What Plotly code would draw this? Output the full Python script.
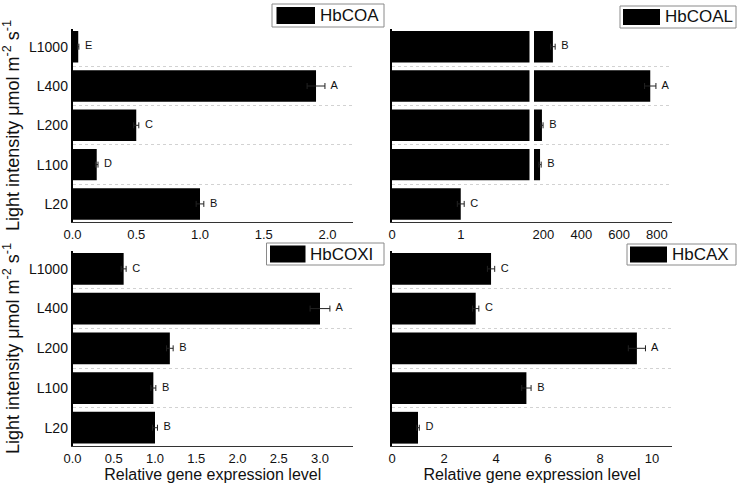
import plotly.graph_objects as go

W, H = 745, 492

# ---------------- data ----------------
categories = ["L20", "L100", "L200", "L400", "L1000"]

coa_vals = [1.0, 0.19, 0.50, 1.91, 0.045]
coa_errs = [0.03, 0.01, 0.02, 0.07, 0.005]
coa_letters = ["B", "D", "C", "A", "E"]

coal_vals = [1.0, 182, 192, 765, 250]
coal_errs = [0.05, 6, 6, 30, 12]
coal_letters = ["C", "B", "B", "A", "B"]
coal_break = [2, 150]  # axis break: left segment ends at 2, right starts at 150

coxi_vals = [1.0, 0.98, 1.18, 3.0, 0.62]
coxi_errs = [0.03, 0.03, 0.04, 0.12, 0.03]
coxi_letters = ["B", "B", "B", "A", "C"]

cax_vals = [1.0, 5.17, 9.42, 3.22, 3.81]
cax_errs = [0.05, 0.18, 0.33, 0.12, 0.14]
cax_letters = ["D", "B", "A", "C", "C"]

genes = ["HbCOA", "HbCOAL", "HbCOXI", "HbCAX"]

FONT = "Arial, Liberation Sans, sans-serif"


def px(x):
    return x / W


def py(y):
    return 1 - y / H


fig = go.Figure()


def add_bars(vals, errs, xa, ya):
    fig.add_trace(go.Bar(
        x=vals, y=categories, orientation="h",
        marker=dict(color="#000000", line=dict(width=0)),
        error_x=dict(type="data", array=errs, symmetric=True,
                     color="#222222", thickness=1, width=3),
        xaxis=xa, yaxis=ya, showlegend=False,
    ))


def add_letters(vals, errs, letters, xa, ya, keep=lambda v: True):
    xs, ys, ts = [], [], []
    for c, v, e, t in zip(categories, vals, errs, letters):
        if keep(v + e):
            xs.append(v + e)
            ys.append(c)
            ts.append("  " + t)
    fig.add_trace(go.Scatter(
        x=xs, y=ys, mode="text", text=ts,
        textposition="middle right",
        textfont=dict(family=FONT, size=11, color="#111111"),
        cliponaxis=False,
        xaxis=xa, yaxis=ya, showlegend=False, hoverinfo="skip",
    ))


add_bars(coa_vals, coa_errs, "x", "y")
add_letters(coa_vals, coa_errs, coa_letters, "x", "y")

add_bars(coal_vals, coal_errs, "x2", "y2")
add_letters(coal_vals, coal_errs, coal_letters, "x2", "y2",
            keep=lambda v: v <= coal_break[0])
add_bars(coal_vals, coal_errs, "x3", "y2")
add_letters(coal_vals, coal_errs, coal_letters, "x3", "y2",
            keep=lambda v: v >= coal_break[1])

add_bars(coxi_vals, coxi_errs, "x4", "y3")
add_letters(coxi_vals, coxi_errs, coxi_letters, "x4", "y3")
add_bars(cax_vals, cax_errs, "x5", "y4")
add_letters(cax_vals, cax_errs, cax_letters, "x5", "y4")

tickfont = dict(family=FONT, size=13, color="#111111")
ytickfont = dict(family=FONT, size=14, color="#111111")

top_dom = [py(222), py(29)]
bot_dom = [py(446), py(251)]
left_dom = [px(72.5), px(353)]
right_dom = [px(392), px(672)]

xcommon = dict(showline=True, linecolor="#333333", linewidth=1,
               showgrid=False, zeroline=False, ticks="", automargin=False,
               tickfont=tickfont, fixedrange=True)
ycommon = dict(type="category", categoryorder="array",
               categoryarray=categories, range=[-0.46, 4.45],
               showline=True, linecolor="#000000", linewidth=1.5,
               showgrid=True, gridcolor="#d2d2d2", griddash="dot",
               gridwidth=1, tickson="boundaries", ticks="", automargin=False,
               zeroline=False, tickfont=ytickfont, fixedrange=True)

ytitle = dict(text="Light intensity \u03bcmol m<sup>-2</sup> s<sup>-1</sup>",
              font=dict(family=FONT, size=18, color="#111111"), standoff=5)
xtitle = dict(text="Relative gene expression level",
              font=dict(family=FONT, size=16, color="#111111"), standoff=4)

fig.update_layout(
    width=W, height=H,
    margin=dict(l=0, r=0, t=0, b=0),
    paper_bgcolor="white", plot_bgcolor="white",
    bargap=0.2, showlegend=False,
    xaxis=dict(domain=left_dom, range=[0, 2.2], tickvals=[0, 0.5, 1, 1.5, 2],
               tickformat=".1f", anchor="y", **xcommon),
    yaxis=dict(domain=top_dom, anchor="x", title=ytitle, **ycommon),
    xaxis2=dict(domain=[px(392), px(529.5)], range=[0, coal_break[0]], tickvals=[0, 1],
                anchor="y2", **xcommon),
    xaxis3=dict(domain=[px(534), px(672)], range=[coal_break[1], 880],
                tickvals=[200, 400, 600, 800], anchor="y2", **xcommon),
    yaxis2=dict(domain=top_dom, anchor="x2", showticklabels=False, **ycommon),
    xaxis4=dict(domain=left_dom, range=[0, 3.4], tickvals=[0, 0.5, 1, 1.5, 2, 2.5, 3],
                tickformat=".1f", anchor="y3", title=xtitle, **xcommon),
    yaxis3=dict(domain=bot_dom, anchor="x4", title=ytitle, **ycommon),
    xaxis5=dict(domain=right_dom, range=[0, 10.77], tickvals=[0, 2, 4, 6, 8, 10],
                anchor="y4", title=xtitle, **xcommon),
    yaxis4=dict(domain=bot_dom, anchor="x5", showticklabels=False, **ycommon),
)

# continuous x-axis line across the break of the HbCOAL panel
fig.add_shape(type="line", xref="paper", yref="paper",
              x0=px(529), x1=px(534.5), y0=py(222.5), y1=py(222.5),
              line=dict(color="#333333", width=1))

# ---------------- legend boxes (one per panel) ----------------
legend_boxes = [
    # box x0, x1, y0, y1, key x0, key x1, key y0, key y1
    (272, 384, 4, 27, 276.5, 315, 7, 24),
    (620, 736, 6, 28, 623, 660, 9, 25),
    (266.5, 384, 243, 265, 270, 305.5, 245.5, 262.5),
    (627, 736, 244, 265, 630, 667, 246.5, 262.5),
]
for gene, (bx0, bx1, by0, by1, kx0, kx1, ky0, ky1) in zip(genes, legend_boxes):
    fig.add_shape(type="rect", xref="paper", yref="paper",
                  x0=px(bx0), x1=px(bx1), y0=py(by1), y1=py(by0),
                  line=dict(color="#8a8a8a", width=1), fillcolor="white")
    fig.add_shape(type="rect", xref="paper", yref="paper",
                  x0=px(kx0), x1=px(kx1), y0=py(ky1), y1=py(ky0),
                  line=dict(width=0), fillcolor="#000000")
    fig.add_annotation(xref="paper", yref="paper", x=px(kx1 + 2.5),
                       y=py((by0 + by1) / 2), text=gene, showarrow=False,
                       xanchor="left", yanchor="middle",
                       font=dict(family=FONT, size=17, color="#111111"))

fig.write_html(
    "out.html",
    config={"displayModeBar": False},
    post_script="document.body.style.margin='0';document.body.style.overflow='hidden';",
)
